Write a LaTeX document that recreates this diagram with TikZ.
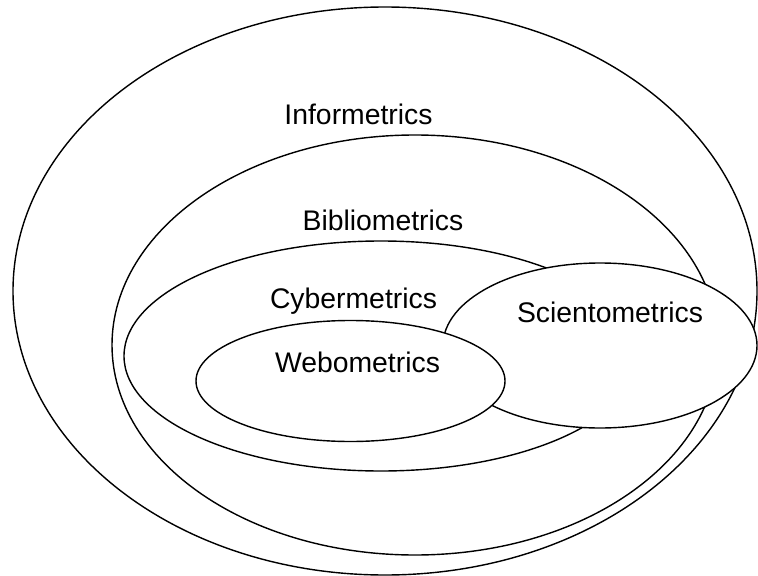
\documentclass[tikz,border=0pt]{standalone}
\usepackage{fontspec}
\setmainfont{Liberation Sans}
\usetikzlibrary{shapes.geometric}

\begin{document}
\begin{tikzpicture}[x=0.3mm,y=-0.3mm,
field/.style={draw=black,ellipse,line width=1.2pt,inner sep=0pt},
cover/.style={field,fill=white},
lbl/.style={anchor=base,font=\fontsize{24.2}{29}\selectfont}]
\useasboundingbox (0,0) rectangle (758,576);
% nested fields, back to front
\node[field,minimum width=744*0.3mm,minimum height=568*0.3mm] (info) at (385,291) {};
\node[field,minimum width=606*0.3mm,minimum height=420*0.3mm] (biblio) at (415,345) {};
\node[field,minimum width=514*0.3mm,minimum height=230*0.3mm] (cyber) at (381,356) {};
\node[cover,minimum width=314*0.3mm,minimum height=165*0.3mm] (scient) at (600,345.5) {};
\node[cover,minimum width=309*0.3mm,minimum height=121*0.3mm] (webo) at (350.5,381) {};
% labels
\node[lbl] (infolbl) at (358.5,125) {Informetrics};
\node[lbl] (bibliolbl) at (383,230) {Bibliometrics};
\node[lbl] (cyberlbl) at (353.5,308) {Cybermetrics};
\node[lbl] (scientlbl) at (610,322) {Scientometrics};
\node[lbl] (webolbl) at (357.5,372) {Webometrics};
\end{tikzpicture}
\end{document}
